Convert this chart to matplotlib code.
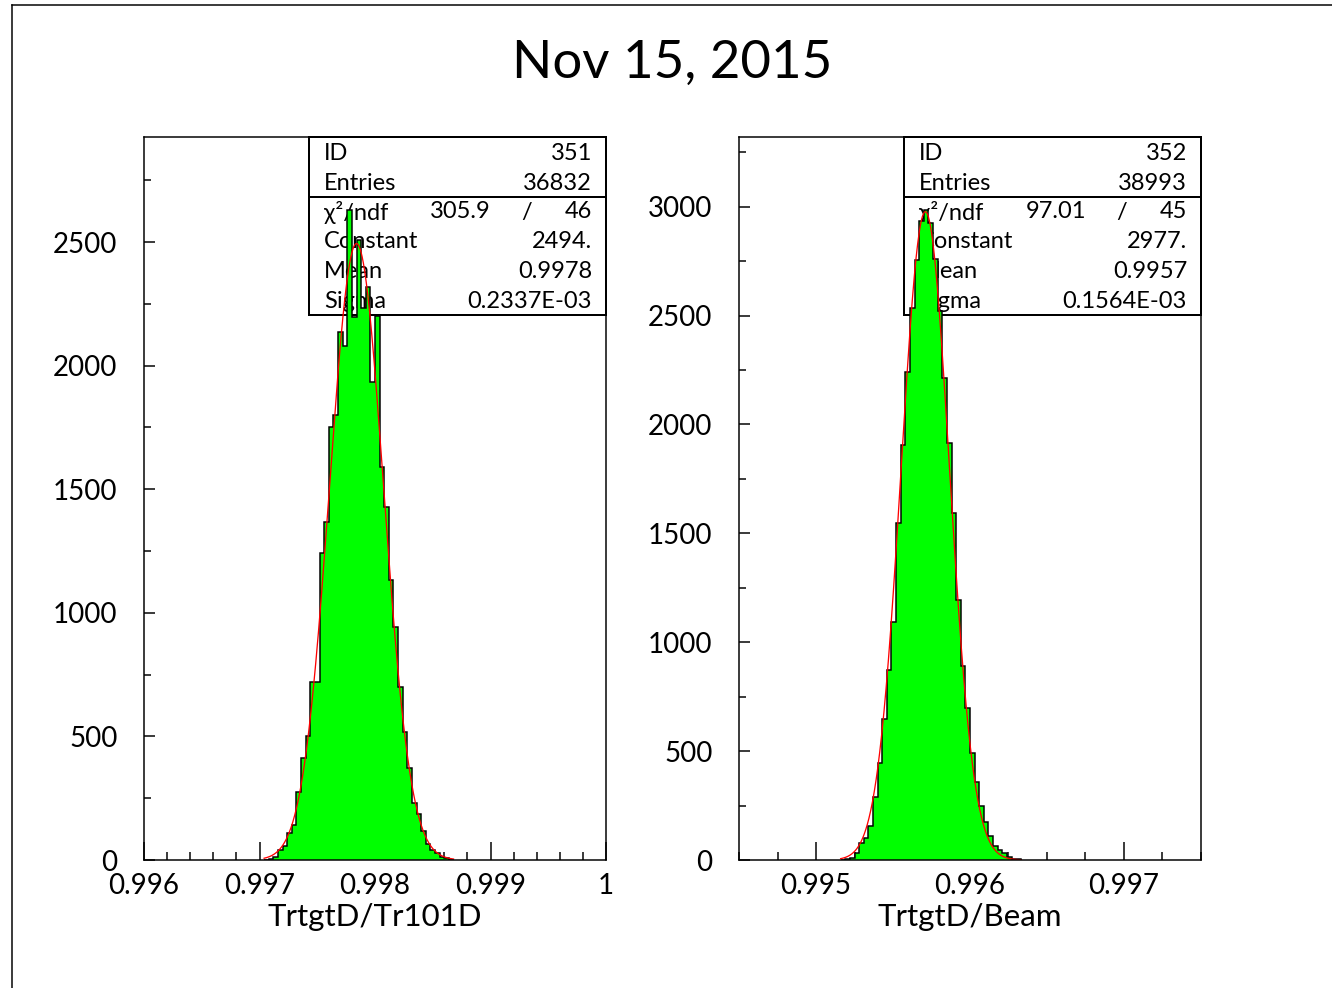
import numpy as np
import matplotlib
matplotlib.use("Agg")
import matplotlib.pyplot as plt
from matplotlib.lines import Line2D
from matplotlib.patches import Rectangle

# ------------------------------------------------------------------ data
title = "Nov 15, 2015"

# left histogram (ID 351)
left_xlabel = "TrtgtD/Tr101D"
left_bin_width = 0.00004
left_first_edge = 0.99704
left_counts = [2, 5, 13, 40, 55, 110, 140, 276, 411, 502,
               719, 719, 1243, 1368, 1750, 1800, 2137, 2079, 2630, 2198,
               2508, 2233, 2319, 1935, 2200, 1591, 1429, 1133, 941, 699,
               519, 371, 232, 186, 119, 65, 40, 27, 13, 7, 2]
left_xlim = (0.996, 1.0)
left_ylim = (0, 2925)
left_xticks = [0.996, 0.997, 0.998, 0.999, 1.0]
left_xtick_labels = ["0.996", "0.997", "0.998", "0.999", "1"]
left_xminor_step = 0.0002
left_yticks = [0, 500, 1000, 1500, 2000, 2500]
left_yminor_step = 250
left_id = "351"
left_entries = "36832"
left_chi2 = "305.9"
left_ndf = "46"
left_constant = "2494."
left_mean = "0.9978"
left_sigma = "0.2337E-03"
left_fit_constant = 2494.0
left_fit_mean = 0.99784
left_fit_sigma = 0.2337e-3

# right histogram (ID 352)
right_xlabel = "TrtgtD/Beam"
right_bin_width = 0.00003
right_first_edge = 0.99516
right_counts = [2, 4, 8, 30, 80, 100, 156, 291, 447, 646,
                873, 1095, 1549, 1906, 2243, 2534, 2756, 2935, 2986, 2926,
                2760, 2520, 2212, 1914, 1593, 1194, 891, 697, 490, 360,
                248, 176, 110, 64, 46, 31, 12, 6, 3]
right_xlim = (0.9945, 0.9975)
right_ylim = (0, 3320)
right_xticks = [0.995, 0.996, 0.997]
right_xtick_labels = ["0.995", "0.996", "0.997"]
right_xminor_step = 0.00025
right_yticks = [0, 500, 1000, 1500, 2000, 2500, 3000]
right_yminor_step = 250
right_id = "352"
right_entries = "38993"
right_chi2 = "97.01"
right_ndf = "45"
right_constant = "2977."
right_mean = "0.9957"
right_sigma = "0.1564E-03"
right_fit_constant = 2977.0
right_fit_mean = 0.99571
right_fit_sigma = 0.1564e-3

# ------------------------------------------------------------------ style
W, H = 1332, 988
plt.rcParams['font.family'] = ['Lato', 'DejaVu Sans']
plt.rcParams['font.weight'] = 'normal'
plt.rcParams['text.color'] = 'black'

fig = plt.figure(figsize=(W / 100, H / 100), dpi=100)
fig.patch.set_facecolor('white')

PX = 0.72  # points per pixel at dpi 100


def rect_px(x0, y0, x1, y1):
    return [x0 / W, 1 - y1 / H, (x1 - x0) / W, (y1 - y0) / H]


def fig_line(xs, ys, lw=1.5):
    fig.add_artist(Line2D([x / W for x in xs], [1 - y / H for y in ys],
                          transform=fig.transFigure, color='black', lw=lw * PX))


# outer frame
fig_line([12, 12], [5, 988])
fig_line([12, 1332], [5, 5])

fig.text(672 / W, 1 - 63 / H, title, ha='center', va='center', fontsize=38)


def panel(x0, first_edge, bw, counts, xlim, ylim, xticks, xlabels, xminor,
          yticks, yminor, xlabel, sid, entries, chi2, ndf, const, mean, sigma,
          fc, fm, fs):
    ax = fig.add_axes(rect_px(x0, 137, x0 + 462, 860))
    ax.set_xlim(*xlim)
    ax.set_ylim(*ylim)
    edges = first_edge + bw * np.arange(len(counts) + 1)
    ax.stairs(counts, edges, fill=True, color='#00ff00', lw=0, zorder=3)
    ax.stairs(counts, edges, color='black', lw=1.5 * PX, zorder=4, baseline=0)
    xs = np.linspace(edges[0], edges[-1], 600)
    ax.plot(xs, fc * np.exp(-0.5 * ((xs - fm) / fs) ** 2), color='red',
            lw=1.3 * PX, zorder=5)

    for s in ax.spines.values():
        s.set_linewidth(1.5 * PX)
        s.set_zorder(6)

    ax.set_xticks(xticks)
    ax.set_xticklabels(xlabels)
    mn = np.arange(xlim[0], xlim[1] + 1e-9, xminor)
    mn = [m for m in mn if min(abs(m - t) for t in xticks) > 1e-7]
    ax.set_xticks(mn, minor=True)
    ax.set_yticks(yticks)
    ax.set_yticklabels([str(t) for t in yticks])
    ymn = [v for v in np.arange(ylim[0], ylim[1], yminor) if v not in yticks]
    ax.set_yticks(ymn, minor=True)
    ax.tick_params(axis='both', which='both', direction='in', top=False,
                   right=False, width=1.5 * PX, labelsize=20,
                   labelcolor='black')
    ax.tick_params(axis='x', which='major', length=18 * PX, pad=9)
    ax.tick_params(axis='x', which='minor', length=8 * PX)
    ax.tick_params(axis='y', which='major', length=11 * PX, pad=19)
    ax.tick_params(axis='y', which='minor', length=7 * PX)

    fig.text((x0 + 231) / W, 1 - 917 / H, xlabel, ha='center', va='center',
             fontsize=22.5)

    # stats box (drawn beneath the histogram)
    def fy(y):
        return (860 - y) / 723

    def fx(x):
        return (x - 144) / 462

    ax.add_patch(Rectangle((fx(309), fy(315)), 1 - fx(309), fy(137) - fy(315),
                           transform=ax.transAxes, facecolor='white',
                           edgecolor='black', lw=2 * PX, zorder=1,
                           clip_on=False))
    ax.add_line(Line2D([fx(309), 1], [fy(197), fy(197)],
                       transform=ax.transAxes, color='black', lw=2 * PX,
                       zorder=1.5, clip_on=False))
    rows_y = [153, 183, 212, 242, 271, 301]
    names = ["ID", "Entries", "\u03c7\u00b2/ndf", "Constant", "Mean", "Sigma"]
    vals = [sid, entries, ndf, const, mean, sigma]
    fsz = 17
    for y, n, v in zip(rows_y, names, vals):
        ax.text(fx(324), fy(y), n, transform=ax.transAxes, ha='left',
                va='center', fontsize=fsz, zorder=2)
        ax.text(fx(592), fy(y), v, transform=ax.transAxes, ha='right',
                va='center', fontsize=fsz, zorder=2)
    ax.text(fx(491), fy(212), chi2, transform=ax.transAxes, ha='right',
            va='center', fontsize=fsz, zorder=2)
    ax.text(fx(527), fy(212), "/", transform=ax.transAxes, ha='center',
            va='center', fontsize=fsz, zorder=2)
    return ax


panel(144, left_first_edge, left_bin_width, left_counts, left_xlim, left_ylim,
      left_xticks, left_xtick_labels, left_xminor_step, left_yticks,
      left_yminor_step, left_xlabel, left_id, left_entries, left_chi2,
      left_ndf, left_constant, left_mean, left_sigma,
      left_fit_constant, left_fit_mean, left_fit_sigma)

panel(739, right_first_edge, right_bin_width, right_counts, right_xlim,
      right_ylim, right_xticks, right_xtick_labels, right_xminor_step,
      right_yticks, right_yminor_step, right_xlabel, right_id, right_entries,
      right_chi2, right_ndf, right_constant, right_mean, right_sigma,
      right_fit_constant, right_fit_mean, right_fit_sigma)

fig.savefig("out.png", dpi=100, facecolor='white')
